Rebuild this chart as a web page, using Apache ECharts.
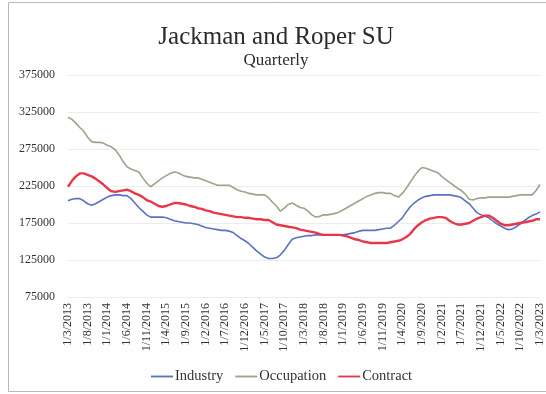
<!DOCTYPE html>
<html>
<head>
<meta charset="utf-8">
<script src="https://cdn.jsdelivr.net/npm/echarts@6/dist/echarts.min.js"></script>
<style>
  html, body { margin: 0; padding: 0; background: #fff; }
  #chart { width: 546px; height: 394px; }
</style>
</head>
<body>
<div id="chart"></div>
<script>
// Monthly series, March 2013 to March 2023
const startYear = 2013;
const startMonth = 3;
const monthCount = 121;

const industry = [
  205000, 207000, 208000, 208000, 205000, 201000, 199000, 201000, 204000, 207000,
  210000, 212000, 213000, 213000, 212000, 212000, 208000, 202000, 196000, 191000,
  186000, 183000, 183000, 183000, 183000, 182000, 180000, 178000, 177000, 176000,
  175000, 175000, 174000, 173000, 171000, 169000, 168000, 167000, 166000, 165000,
  165000, 164000, 162000, 158000, 154000, 151000, 147000, 142000, 137000, 133000,
  129000, 127000, 127000, 128000, 132000, 138000, 146000, 153000, 155000, 156000,
  157000, 158000, 158000, 159000, 159000, 159000, 159000, 159000, 159000, 159000,
  159000, 160000, 161000, 162000, 164000, 165000, 165000, 165000, 165000, 166000,
  167000, 168000, 168000, 172000, 177000, 182000, 190000, 197000, 202000, 206000,
  209000, 211000, 212000, 213000, 213000, 213000, 213000, 213000, 212000, 211000,
  209000, 205000, 201000, 195000, 189000, 186000, 184000, 182000, 178000, 174000,
  171000, 168000, 166000, 167000, 170000, 174000, 178000, 182000, 185000, 187000,
  190000
];

const occupation = [
  318000, 315000, 310000, 304000, 299000, 291000, 285000, 284000, 284000, 283000,
  280000, 278000, 274000, 267000, 258000, 251000, 248000, 246000, 244000, 236000,
  229000, 224000, 228000, 232000, 236000, 239000, 242000, 244000, 243000, 240000,
  238000, 237000, 236000, 236000, 234000, 232000, 230000, 228000, 226000, 226000,
  226000, 226000, 223000, 220000, 218000, 217000, 215000, 214000, 213000, 213000,
  213000, 209000, 203000, 198000, 191000, 195000, 200000, 202000, 199000, 196000,
  195000, 191000, 186000, 183000, 184000, 186000, 186000, 187000, 188000, 190000,
  193000, 196000, 199000, 202000, 205000, 208000, 211000, 213000, 215000, 216000,
  216000, 215000, 215000, 212000, 210000, 215000, 222000, 230000, 238000, 245000,
  250000, 249000, 247000, 245000, 243000, 238000, 234000, 230000, 226000, 222000,
  219000, 214000, 207000, 206000, 208000, 209000, 209000, 210000, 210000, 210000,
  210000, 210000, 210000, 211000, 212000, 213000, 213000, 213000, 213000, 219000,
  227000
];

const contract = [
  224000, 232000, 238000, 242000, 242000, 240000, 238000, 235000, 231000, 227000,
  222000, 218000, 217000, 218000, 219000, 220000, 218000, 215000, 213000, 210000,
  206000, 204000, 201000, 198000, 197000, 198000, 200000, 202000, 202000, 201000,
  200000, 198000, 197000, 195000, 194000, 192000, 191000, 189000, 188000, 187000,
  186000, 185000, 184000, 183000, 183000, 182000, 182000, 181000, 180000, 180000,
  179000, 179000, 176000, 173000, 172000, 171000, 170000, 169000, 168000, 166000,
  165000, 164000, 163000, 162000, 160000, 159000, 159000, 159000, 159000, 159000,
  158000, 157000, 155000, 153000, 152000, 150000, 149000, 148000, 148000, 148000,
  148000, 148000, 149000, 150000, 151000, 153000, 156000, 160000, 167000, 172000,
  176000, 179000, 181000, 182000, 183000, 183000, 182000, 178000, 175000, 173000,
  173000, 174000, 175000, 178000, 181000, 183000, 185000, 185000, 182000, 178000,
  174000, 172000, 172000, 173000, 174000, 175000, 176000, 177000, 178000, 180000,
  180000
];

const yTicks = { min: 75000, max: 375000, step: 50000 };

// Category labels in d/m/yyyy form (first of each month)
const months = [];
for (let i = 0; i < monthCount; i++) {
  const total = (startMonth - 1) + i;
  const y = startYear + Math.floor(total / 12);
  const m = (total % 12) + 1;
  months.push('1/' + m + '/' + y);
}

const serif = 'Liberation Serif, Times New Roman, serif';
const chart = echarts.init(document.getElementById('chart'));

chart.setOption({
  backgroundColor: '#fff',
  animation: false,
  title: [
    {
      text: 'Jackman and Roper SU',
      left: 271, top: 20, textAlign: 'center',
      textStyle: { fontFamily: serif, fontSize: 25, fontWeight: 'normal', color: '#2b2b2b' }
    },
    {
      text: 'Quarterly',
      left: 271, top: 47, textAlign: 'center',
      textStyle: { fontFamily: serif, fontSize: 17, fontWeight: 'normal', color: '#2b2b2b' }
    }
  ],
  graphic: [{
    type: 'rect',
    shape: { x: 8.5, y: 2.5, width: 560, height: 389 },
    style: { fill: 'none', stroke: '#b8b8b8', lineWidth: 1 },
    silent: true, z: -1
  }],
  legend: {
    bottom: 5, left: 146,
    itemWidth: 22, itemHeight: 10, itemGap: 12,
    icon: 'path://M0,4 L24,4 L24,6 L0,6 Z',
    textStyle: { fontFamily: serif, fontSize: 14.5, color: '#333', padding: [0, 0, 0, -3] },
    data: ['Industry', 'Occupation', 'Contract']
  },
  grid: { left: 68, right: 3, top: 75, bottom: 97 },
  xAxis: {
    type: 'category',
    data: months,
    boundaryGap: false,
    axisLine: { show: false },
    axisTick: { show: false },
    axisLabel: {
      interval: 4, rotate: 90, margin: 6,
      fontFamily: serif, fontSize: 12, color: '#333'
    },
    splitLine: { show: false }
  },
  yAxis: {
    type: 'value',
    min: yTicks.min, max: yTicks.max, interval: yTicks.step,
    axisLine: { show: false },
    axisTick: { show: false },
    axisLabel: {
      margin: 13, fontFamily: serif, fontSize: 12, color: '#333',
      formatter: (v) => String(v)
    },
    splitLine: { lineStyle: { color: '#ececec', width: 1 } }
  },
  series: [
    {
      name: 'Industry', type: 'line', data: industry, symbol: 'none',
      lineStyle: { color: '#5a72c0', width: 1.6 }, itemStyle: { color: '#5a72c0' }
    },
    {
      name: 'Occupation', type: 'line', data: occupation, symbol: 'none',
      lineStyle: { color: '#99a58c', width: 1.6 }, itemStyle: { color: '#99a58c' }
    },
    {
      name: 'Contract', type: 'line', data: contract, symbol: 'none',
      lineStyle: { color: '#e8374a', width: 2.4 }, itemStyle: { color: '#e8374a' }
    }
  ]
});
</script>
</body>
</html>
